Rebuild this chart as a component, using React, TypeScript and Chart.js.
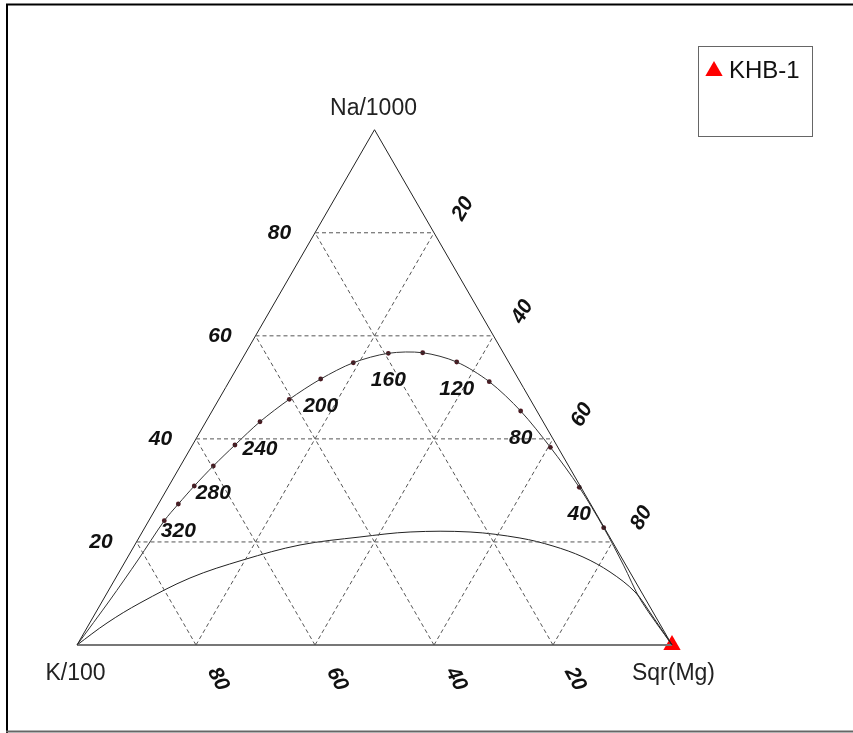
import React, { useEffect, useRef } from 'react';
import { Chart, registerables } from 'chart.js';

Chart.register(...registerables);

// ---------- data (ternary percentages: Na/1000, K/100, Sqr(Mg)) ----------
const vertexNames = ['Na/1000', 'K/100', 'Sqr(Mg)'];
const gridLevels = [20, 40, 60, 80];
const naTickLabels = ['20', '40', '60', '80'];
const mgTickLabels = ['20', '40', '60', '80'];
const kTickLabels = ['20', '40', '60', '80'];

// full equilibrium line, temperature marks (°C)
const eqTemps = [20, 40, 60, 80, 100, 120, 140, 160, 180, 200, 220, 240, 260, 280, 300, 320, 340];
const eqNa = [22.76, 30.6, 38.37, 45.41, 51.1, 54.92, 56.72, 56.61, 54.78, 51.62, 47.68, 43.33, 38.81, 34.74, 30.86, 27.36, 24.12];
const eqK = [0.1, 0.28, 1.26, 2.73, 5.16, 8.72, 13.54, 19.37, 26.17, 33.23, 40.48, 47.58, 54.05, 59.72, 64.86, 69.29, 73.27];
const eqMg = [77.14, 69.12, 60.37, 51.86, 43.74, 36.36, 29.74, 24.02, 19.05, 15.15, 11.84, 9.09, 7.14, 5.54, 4.28, 3.35, 2.61];
const eqLabelTemps = [40, 80, 120, 160, 200, 240, 280, 320];

// continuation of the full equilibrium line to the vertices (no marks)
const eqMgEndNa = [0, 8.7, 15.5];
const eqMgEndK = [0, 0.9, 0.4];
const eqMgEndMg = [100, 90.4, 84.1];
const eqKEndNa = [16.5, 8.73, 0];
const eqKEndK = [81.5, 90.09, 100];
const eqKEndMg = [2.0, 1.18, 0];

// immature waters boundary
const immNa = [0, 4.27, 8.15, 13.0, 16.5, 19.41, 20.96, 21.93, 21.93, 20.76, 19.21, 17.08, 14.17, 10.29, 5.82, 0];
const immK = [100, 92.82, 85.34, 74.51, 63.85, 52.81, 41.96, 33.06, 22.98, 15.17, 10.4, 6.42, 3.33, 1.07, 0.5, 0];
const immMg = [0, 2.91, 6.51, 12.49, 19.65, 27.78, 37.08, 45.01, 55.09, 64.07, 70.39, 76.5, 82.5, 88.64, 93.68, 100];

// samples
const sampleNames = ['KHB-1'];
const sampleNa = [0];
const sampleK = [0];
const sampleMg = [100];

// ---------- helpers ----------
const S3 = Math.sqrt(3) / 2;
function tern(na: number, k: number, mg: number) {
  const s = na + k + mg;
  return { x: ((mg + na / 2) / s) * 100, y: (na / s) * 100 * S3 };
}
function series(na: number[], k: number[], mg: number[]) {
  return na.map((v, i) => tern(v, k[i], mg[i]));
}

const W = 853;
const H = 733;
const OX = 77; // pixel of K vertex
const OY = 645;
const PX = 5.95; // pixels per ternary unit

const FONT = '"Liberation Sans", Arial, sans-serif';

export default function App() {
  const ref = useRef<HTMLCanvasElement | null>(null);

  useEffect(() => {
    const canvas = ref.current;
    if (!canvas) return;

    const gridStyle = {
      showLine: true,
      pointRadius: 0,
      borderColor: '#555',
      borderWidth: 1,
      borderDash: [4, 3],
      fill: false,
    };
    const grid: any[] = [];
    gridLevels.forEach((L) => {
      grid.push({ ...gridStyle, data: [tern(L, 100 - L, 0), tern(L, 0, 100 - L)] });
      grid.push({ ...gridStyle, data: [tern(0, 100 - L, L), tern(100 - L, 0, L)] });
      grid.push({ ...gridStyle, data: [tern(0, L, 100 - L), tern(100 - L, L, 0)] });
    });

    const eqPts = series(eqNa, eqK, eqMg);
    const eqFull = [
      ...series(eqMgEndNa, eqMgEndK, eqMgEndMg),
      ...eqPts,
      ...series(eqKEndNa, eqKEndK, eqKEndMg),
    ];

    const labelPlugin = {
      id: 'ternaryText',
      afterDatasetsDraw(chart: any) {
        const ctx = chart.ctx;
        const xs = chart.scales.x;
        const ys = chart.scales.y;
        const px = (p: { x: number; y: number }) => [xs.getPixelForValue(p.x), ys.getPixelForValue(p.y)];
        ctx.save();

        // frame
        ctx.strokeStyle = '#000';
        ctx.lineWidth = 2;
        ctx.beginPath();
        ctx.moveTo(7, 733);
        ctx.lineTo(7, 4.5);
        ctx.lineTo(853, 4.5);
        ctx.stroke();
        ctx.strokeStyle = '#666';
        ctx.beginPath();
        ctx.moveTo(6, 731.5);
        ctx.lineTo(853, 731.5);
        ctx.stroke();

        // vertex labels
        ctx.fillStyle = '#222';
        ctx.font = `23px ${FONT}`;
        ctx.textAlign = 'center';
        ctx.textBaseline = 'alphabetic';
        const [nx, ny] = px(tern(100, 0, 0));
        ctx.fillText(vertexNames[0], nx - 1, ny - 15);
        const [kx, ky] = px(tern(0, 100, 0));
        ctx.fillText(vertexNames[1], kx - 1.5, ky + 35);
        const [mx, my] = px(tern(0, 0, 100));
        ctx.fillText(vertexNames[2], mx + 1.5, my + 34.5);

        // tick labels
        ctx.font = `italic bold 21px ${FONT}`;
        ctx.fillStyle = '#111';
        ctx.textBaseline = 'middle';
        gridLevels.forEach((L, i) => {
          const [ax, ay] = px(tern(L, 100 - L, 0));
          ctx.fillText(naTickLabels[i], ax - 35.5, ay);

          const [bx, by] = px(tern(100 - L, 0, L));
          ctx.save();
          ctx.translate(bx + 29, by - 24);
          ctx.rotate(-Math.PI / 3);
          ctx.fillText(mgTickLabels[i], 0, 0);
          ctx.restore();

          const [cx, cy] = px(tern(0, L, 100 - L));
          ctx.save();
          ctx.translate(cx + 22, cy + 34);
          ctx.rotate((62 * Math.PI) / 180);
          ctx.fillText(kTickLabels[i], 0, 0);
          ctx.restore();
        });

        // temperature labels
        eqTemps.forEach((t, i) => {
          if (eqLabelTemps.indexOf(t) < 0) return;
          const [tx, ty] = px(eqPts[i]);
          ctx.fillText(String(t), tx, ty + 27);
        });

        // legend
        ctx.strokeStyle = '#666';
        ctx.lineWidth = 1;
        ctx.strokeRect(698.5, 46.5, 114, 90);
        ctx.fillStyle = '#ff0000';
        ctx.beginPath();
        const lx = 714;
        const lyc = 71;
        const r = 10;
        ctx.moveTo(lx, lyc - r);
        ctx.lineTo(lx + r * S3, lyc + r / 2);
        ctx.lineTo(lx - r * S3, lyc + r / 2);
        ctx.closePath();
        ctx.fill();
        ctx.fillStyle = '#111';
        ctx.font = `24px ${FONT}`;
        ctx.textAlign = 'left';
        ctx.textBaseline = 'alphabetic';
        ctx.fillText(sampleNames[0], 729, 78);

        ctx.restore();
      },
    };

    const chart = new Chart(canvas, {
      type: 'scatter',
      data: {
        datasets: [
          ...grid,
          {
            // left and right edges
            showLine: true,
            pointRadius: 0,
            borderColor: '#222',
            borderWidth: 1,
            data: [tern(0, 100, 0), tern(100, 0, 0), tern(0, 0, 100)],
          },
          {
            // base
            showLine: true,
            pointRadius: 0,
            borderColor: '#777',
            borderWidth: 2,
            data: [tern(0, 100, 0), tern(0, 0, 100)],
          },
          {
            // immature waters curve
            showLine: true,
            pointRadius: 0,
            borderColor: '#222',
            borderWidth: 1,
            tension: 0.35,
            data: series(immNa, immK, immMg),
          },
          {
            // full equilibrium line
            showLine: true,
            pointRadius: 0,
            borderColor: '#333',
            borderWidth: 1,
            tension: 0.3,
            data: eqFull,
          },
          {
            // temperature marks
            showLine: false,
            pointRadius: 2.4,
            pointBackgroundColor: '#4a1820',
            pointBorderWidth: 0,
            data: eqPts,
          },
          {
            label: sampleNames[0],
            showLine: false,
            pointStyle: 'triangle',
            pointRadius: 10,
            pointBackgroundColor: '#ff0000',
            pointBorderColor: '#ff0000',
            pointBorderWidth: 0,
            clip: false,
            data: series(sampleNa, sampleK, sampleMg),
          },
        ],
      },
      options: {
        responsive: false,
        maintainAspectRatio: false,
        animation: false,
        events: [],
        layout: { padding: 0, autoPadding: false },
        plugins: { legend: { display: false }, tooltip: { enabled: false } },
        scales: {
          x: { type: 'linear', display: false, min: -OX / PX, max: (W - OX) / PX },
          y: { type: 'linear', display: false, min: -(H - OY) / PX, max: OY / PX },
        },
      },
      plugins: [labelPlugin],
    } as any);

    return () => chart.destroy();
  }, []);

  return (
    <div style={{ position: 'absolute', left: 0, top: 0, width: W, height: H, background: '#fff' }}>
      <canvas ref={ref} width={W} height={H} style={{ display: 'block' }} />
    </div>
  );
}
